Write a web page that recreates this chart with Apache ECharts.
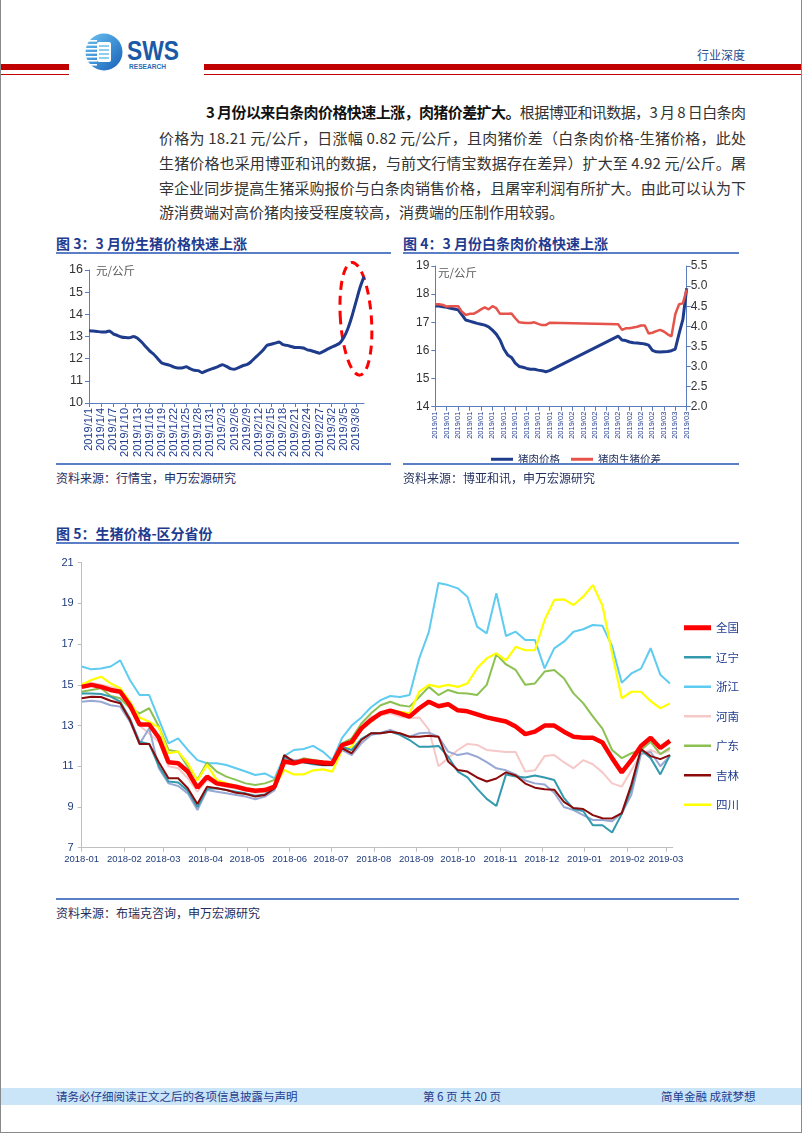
<!DOCTYPE html>
<html><head><meta charset="utf-8">
<script src="https://cdn.jsdelivr.net/npm/echarts@6.0.0/dist/echarts.min.js"></script>
<style>
html,body{margin:0;padding:0;background:#fff;}
#page{position:relative;width:802px;height:1133px;overflow:hidden;background:#fff;font-family:"Noto Sans CJK SC","Noto Sans",sans-serif;box-sizing:border-box;border-left:1px solid #8a8a8a;border-right:1px solid #8a8a8a;border-bottom:1px solid #8a8a8a;}
.abs{position:absolute;}
.red1{position:absolute;height:6px;top:64px;background:#c00000;}
.red2{position:absolute;height:1.5px;top:73.5px;background:#c00000;}
.pl{position:absolute;height:20px;line-height:20px;font-size:15px;color:#333;white-space:nowrap;}
.ttl{position:absolute;font-size:14px;font-weight:bold;color:#1f3b8f;white-space:nowrap;line-height:18px;}
.hl{position:absolute;height:1.5px;background:#5b7fc6;}
.src{position:absolute;font-size:12px;color:#1f2d5a;white-space:nowrap;line-height:16px;}
.ft{position:absolute;font-size:11.5px;color:#1f3b8f;white-space:nowrap;line-height:16px;top:1088px;}
.chart{position:absolute;}
</style></head>
<body>
<div id="page">
  <svg class="abs" style="left:82px;top:30px" width="120" height="46" viewBox="0 0 120 46">
    <defs>
      <linearGradient id="lg" x1="0" y1="0" x2="1" y2="1">
        <stop offset="0" stop-color="#6cc3f2"/><stop offset="1" stop-color="#1560b8"/>
      </linearGradient>
    </defs>
    <circle cx="21" cy="22" r="18.5" fill="url(#lg)"/>
    <rect x="2" y="10" width="12" height="1.6" fill="#fff"/>
    <rect x="1" y="14" width="13" height="1.6" fill="#fff"/>
    <rect x="1" y="18" width="13" height="1.6" fill="#fff"/>
    <rect x="1" y="22" width="13" height="1.6" fill="#fff"/>
    <rect x="1" y="26" width="13" height="1.6" fill="#fff"/>
    <rect x="1" y="30" width="13" height="1.6" fill="#fff"/>
    <rect x="2" y="34" width="12" height="1.6" fill="#fff"/>
    <rect x="14" y="12" width="14" height="20" rx="2" fill="#ffffff"/>
    <rect x="16" y="15" width="10" height="2" fill="#8fcdf3"/>
    <rect x="16" y="19" width="10" height="2" fill="#8fcdf3"/>
    <rect x="16" y="23" width="10" height="2" fill="#8fcdf3"/>
    <rect x="16" y="27" width="10" height="2" fill="#8fcdf3"/>
    <text x="44" y="30" font-family="Liberation Sans, Arial, sans-serif" font-weight="bold" font-size="28" fill="#1b5aa6" textLength="52" lengthAdjust="spacingAndGlyphs">SWS</text>
    <text x="46" y="39" font-family="Liberation Sans, Arial, sans-serif" font-weight="bold" font-size="7.5" fill="#2a6db5" textLength="37" lengthAdjust="spacingAndGlyphs">RESEARCH</text>
  </svg>
  <div class="red1" style="left:0;width:68px"></div>
  <div class="red2" style="left:0;width:68px"></div>
  <div class="red1" style="left:203px;width:600px"></div>
  <div class="red2" style="left:203px;width:600px"></div>
  <div class="abs" style="left:696px;top:47px;font-size:12px;color:#2b4c8c;line-height:16px;">行业深度</div>

  <div class="pl fit" data-w="540" style="left:205px;top:102px;"><b style="color:#111">3 月份以来白条肉价格快速上涨，肉猪价差扩大。</b>根据博亚和讯数据，3 月 8 日白条肉</div>
  <div class="pl fit" data-w="587" style="left:158px;top:128px;">价格为 18.21 元/公斤，日涨幅 0.82 元/公斤，且肉猪价差（白条肉价格-生猪价格，此处</div>
  <div class="pl fit" data-w="587" style="left:158px;top:153px;">生猪价格也采用博亚和讯的数据，与前文行情宝数据存在差异）扩大至 4.92 元/公斤。屠</div>
  <div class="pl fit" data-w="587" style="left:158px;top:178px;">宰企业同步提高生猪采购报价与白条肉销售价格，且屠宰利润有所扩大。由此可以认为下</div>
  <div class="pl" style="left:158px;top:202px;">游消费端对高价猪肉接受程度较高，消费端的压制作用较弱。</div>

  <div class="ttl" style="left:55px;top:234px;">图 3：3 月份生猪价格快速上涨</div>
  <div class="hl" style="left:55px;top:252px;width:335px;"></div>
  <div class="ttl" style="left:402px;top:234px;">图 4：3 月份白条肉价格快速上涨</div>
  <div class="hl" style="left:402px;top:252px;width:336px;"></div>
  <div class="chart" id="c3" style="left:50px;top:255px;width:345px;height:207px;"></div>
  <div class="chart" id="c4" style="left:395px;top:255px;width:350px;height:216px;"></div>
  <div class="hl" style="left:55px;top:463px;width:335px;"></div>
  <div class="hl" style="left:402px;top:463px;width:336px;"></div>
  <div class="src" style="left:55px;top:470px;">资料来源：行情宝，申万宏源研究</div>
  <div class="src" style="left:402px;top:470px;">资料来源：博亚和讯，申万宏源研究</div>

  <div class="ttl" style="left:55px;top:524px;">图 5：生猪价格-区分省份</div>
  <div class="hl" style="left:55px;top:542px;width:683px;"></div>
  <div class="chart" id="c5" style="left:50px;top:545px;width:700px;height:350px;"></div>
  <div class="hl" style="left:55px;top:898px;width:683px;"></div>
  <div class="src" style="left:55px;top:905px;">资料来源：布瑞克咨询，申万宏源研究</div>

  <div class="abs" style="left:0;top:1088px;width:802px;height:17px;background:#c9e5f7;"></div>
  <div class="ft" style="left:55px;">请务必仔细阅读正文之后的各项信息披露与声明</div>
  <div class="ft" style="left:422px;">第 6 页 共 20 页</div>
  <div class="ft" style="left:660px;">简单金融 成就梦想</div>
</div>
<script>
// ---------- Figure 3 data ----------
const f3Dates = ['2019/1/1','2019/1/2','2019/1/3','2019/1/4','2019/1/5','2019/1/6','2019/1/7','2019/1/8','2019/1/9','2019/1/10','2019/1/11','2019/1/12','2019/1/13','2019/1/14','2019/1/15','2019/1/16','2019/1/17','2019/1/18','2019/1/19','2019/1/20','2019/1/21','2019/1/22','2019/1/23','2019/1/24','2019/1/25','2019/1/26','2019/1/27','2019/1/28','2019/1/29','2019/1/30','2019/1/31','2019/2/1','2019/2/2','2019/2/3','2019/2/4','2019/2/5','2019/2/6','2019/2/7','2019/2/8','2019/2/9','2019/2/10','2019/2/11','2019/2/12','2019/2/13','2019/2/14','2019/2/15','2019/2/16','2019/2/17','2019/2/18','2019/2/19','2019/2/20','2019/2/21','2019/2/22','2019/2/23','2019/2/24','2019/2/25','2019/2/26','2019/2/27','2019/2/28','2019/3/1','2019/3/2','2019/3/3','2019/3/4','2019/3/5','2019/3/6','2019/3/7','2019/3/8','2019/3/9','2019/3/10'];
const f3Hog = [13.26,13.25,13.23,13.2,13.2,13.25,13.12,13.05,12.98,12.95,12.94,13.0,12.92,12.75,12.55,12.35,12.2,12.0,11.8,11.75,11.7,11.62,11.58,11.58,11.63,11.55,11.48,11.46,11.37,11.45,11.52,11.58,11.65,11.72,11.65,11.55,11.52,11.6,11.68,11.73,11.85,12.03,12.2,12.38,12.6,12.65,12.7,12.75,12.63,12.6,12.55,12.5,12.5,12.48,12.4,12.36,12.3,12.25,12.33,12.43,12.52,12.6,12.7,12.95,13.35,13.9,14.55,15.2,15.7];
const f3YTicks = [10, 16, 1];

// ---------- Figure 4 data ----------
const f4Dates = ['2019/01/01','2019/01/02','2019/01/03','2019/01/04','2019/01/05','2019/01/06','2019/01/07','2019/01/08','2019/01/09','2019/01/10','2019/01/11','2019/01/12','2019/01/13','2019/01/14','2019/01/15','2019/01/16','2019/01/17','2019/01/18','2019/01/19','2019/01/20','2019/01/21','2019/01/22','2019/01/23','2019/01/24','2019/01/25','2019/01/26','2019/01/27','2019/01/28','2019/01/29','2019/01/30','2019/01/31','2019/02/01','2019/02/02','2019/02/03','2019/02/04','2019/02/05','2019/02/06','2019/02/07','2019/02/08','2019/02/09','2019/02/10','2019/02/11','2019/02/12','2019/02/13','2019/02/14','2019/02/15','2019/02/16','2019/02/17','2019/02/18','2019/02/19','2019/02/20','2019/02/21','2019/02/22','2019/02/23','2019/02/24','2019/02/25','2019/02/26','2019/02/27','2019/02/28','2019/03/01','2019/03/02','2019/03/03','2019/03/04','2019/03/05','2019/03/06','2019/03/07','2019/03/08'];
const f4Pork = [17.58,17.58,17.55,17.53,17.5,17.47,17.44,17.26,17.08,17.04,17.0,16.96,16.93,16.9,16.84,16.72,16.58,16.37,16.05,15.84,15.75,15.55,15.43,15.4,15.36,15.33,15.33,15.3,15.28,15.24,15.28,
  null,null,null,null,null,null,null,null,null,null,null,null,null,null,null,null,null,
  16.51,16.37,16.35,16.3,16.27,16.26,16.25,16.23,16.19,16.0,15.95,15.94,15.95,15.96,15.99,16.05,16.6,17.1,18.21];
const f4Spread = [4.55,4.55,4.53,4.49,4.5,4.5,4.5,4.36,4.28,4.31,4.31,4.36,4.42,4.47,4.42,4.5,4.45,4.31,4.31,4.31,4.32,4.2,4.1,4.09,4.08,4.08,4.1,4.06,4.03,4.03,4.09,
  null,null,null,null,null,null,null,null,null,null,null,null,null,null,null,null,null,
  4.05,3.91,3.95,3.95,3.97,3.99,4.02,4.02,3.82,3.84,3.88,3.91,3.87,3.8,3.75,4.3,4.55,4.57,4.92];
const f4Names = ['猪肉价格','猪肉生猪价差'];

// ---------- Figure 5 data ----------
const f5Dates = ['2018-01-01','2018-01-08','2018-01-15','2018-01-22','2018-01-29','2018-02-05','2018-02-12','2018-02-19','2018-02-26','2018-03-05','2018-03-12','2018-03-19','2018-03-26','2018-04-02','2018-04-09','2018-04-16','2018-04-23','2018-04-30','2018-05-07','2018-05-14','2018-05-21','2018-05-28','2018-06-04','2018-06-11','2018-06-18','2018-06-25','2018-07-02','2018-07-09','2018-07-16','2018-07-23','2018-07-30','2018-08-06','2018-08-13','2018-08-20','2018-08-27','2018-09-03','2018-09-10','2018-09-17','2018-09-24','2018-10-01','2018-10-08','2018-10-15','2018-10-22','2018-10-29','2018-11-05','2018-11-12','2018-11-19','2018-11-26','2018-12-03','2018-12-10','2018-12-17','2018-12-24','2018-12-31','2019-01-07','2019-01-14','2019-01-21','2019-01-28','2019-02-04','2019-02-11','2019-02-18','2019-02-25','2019-03-04'];
const f5MonthTicks = ['2018-01-01','2018-02-01','2018-03-01','2018-04-01','2018-05-01','2018-06-01','2018-07-01','2018-08-01','2018-09-01','2018-10-01','2018-11-01','2018-12-01','2019-01-01','2019-02-01','2019-03-01'];
const f5National = [14.9,15.0,14.9,14.75,14.66,14.0,13.05,13.05,12.4,11.2,11.15,10.74,9.95,10.49,10.16,10.08,
  10.0,9.87,9.8,9.83,10.0,11.23,11.15,11.28,11.23,11.18,11.15,12.04,12.2,12.86,13.27,
  13.6,13.73,13.6,13.44,13.85,14.17,13.95,14.05,13.75,13.7,13.55,13.4,13.3,13.2,12.95,12.58,
  12.7,13.0,13.0,12.7,12.45,12.4,12.4,12.17,11.4,10.7,11.3,12.0,12.4,11.9,12.25];
const f5Liaoning = [14.58,14.58,14.55,14.42,14.17,13.35,12.2,12.1,11.0,10.25,10.2,9.8,9.0,9.9,9.92,9.83,
  9.75,9.67,9.55,9.62,9.92,11.47,11.23,11.2,11.1,11.05,11.05,11.95,11.8,12.35,12.62,
  12.62,12.7,12.54,12.29,11.96,11.96,12.0,11.47,10.74,10.45,9.9,9.4,9.05,10.6,10.5,10.45,
  10.55,10.45,10.33,9.45,8.9,8.8,8.1,8.1,7.75,8.65,9.9,11.8,11.4,10.6,11.55];
const f5Zhejiang = [15.9,15.76,15.8,15.9,16.2,15.24,14.5,14.5,13.3,12.13,12.37,11.8,11.3,11.15,11.15,11.06,
  10.9,10.74,10.57,10.65,10.41,11.5,11.8,11.85,12.0,11.72,11.3,12.4,13.0,13.4,13.9,
  14.25,14.45,14.4,14.5,16.3,17.6,20.0,19.9,19.74,19.33,17.86,17.53,19.5,17.4,17.61,17.2,
  17.2,15.81,16.79,17.12,17.61,17.73,17.94,17.9,16.9,15.1,15.56,15.8,16.8,15.5,15.07];
const f5Henan = [15.05,15.1,15.0,14.9,14.78,14.1,13.0,12.6,12.2,11.0,10.9,10.41,9.75,10.33,10.1,10.0,
  9.9,9.85,9.7,9.75,9.95,11.2,11.2,11.23,11.2,11.15,11.1,12.0,12.15,12.95,13.44,
  13.5,13.6,13.44,13.36,13.4,12.8,11.0,11.4,11.8,12.1,12.05,11.8,11.75,11.7,11.7,10.74,
  10.8,11.5,11.55,11.2,10.9,11.3,11.1,10.7,10.16,10.0,10.8,11.6,11.8,11.6,11.8];
const f5Guangdong = [14.66,14.75,14.83,14.45,14.34,13.85,13.6,13.85,12.95,11.8,11.72,10.98,10.35,11.18,10.74,10.49,
  10.33,10.16,10.08,10.16,10.33,11.31,11.23,11.39,11.31,11.23,11.15,12.13,12.37,13.1,13.6,
  14.0,14.17,14.0,13.93,14.4,14.9,14.5,14.75,14.6,14.58,14.5,15.0,16.5,16.0,15.73,15.0,
  15.07,15.65,15.73,15.32,14.58,14.1,13.45,12.85,11.8,11.4,11.64,11.8,12.2,11.6,11.9];
const f5Jilin = [14.34,14.42,14.4,14.22,14.1,13.27,12.1,12.1,11.2,10.41,10.41,9.92,9.15,10.0,9.92,9.83,
  9.7,9.64,9.51,9.59,9.92,11.55,11.23,11.2,11.15,11.06,11.06,11.88,11.64,12.29,12.62,
  12.62,12.7,12.62,12.45,12.45,12.5,12.45,11.23,10.82,10.74,10.45,10.25,10.4,10.7,10.55,10.15,
  9.95,9.87,9.85,9.25,8.95,8.9,8.6,8.45,8.44,8.7,10.1,11.85,11.5,11.35,11.55];
const f5Sichuan = [15.0,15.24,15.4,15.07,14.83,14.17,13.4,13.19,12.9,11.64,11.72,11.15,10.3,11.07,10.33,10.16,
  10.03,9.92,9.83,9.85,10.0,10.82,10.6,10.6,10.8,10.85,10.74,11.8,11.96,12.9,13.19,
  13.6,13.76,13.68,13.6,14.66,15.0,14.9,15.0,14.9,15.07,15.81,16.3,16.55,16.2,16.87,16.7,
  16.7,18.18,19.17,19.2,18.92,19.33,19.9,18.9,16.55,14.34,14.66,14.66,14.2,13.85,14.09];
const f5Other = [14.17,14.22,14.17,14.0,13.93,13.19,12.1,12.87,10.9,10.16,10.03,9.67,8.85,9.83,9.75,9.67,
  9.59,9.51,9.38,9.51,9.83,11.39,11.31,11.3,11.2,11.15,11.15,11.8,11.55,12.13,12.54,
  12.65,12.78,12.6,12.45,12.62,12.65,12.45,11.72,11.55,11.64,11.47,11.2,10.9,10.8,10.6,10.3,
  10.16,10.1,9.7,9.0,8.85,8.6,8.36,8.36,8.3,8.69,9.6,11.6,11.7,11.0,11.5];
const f5YTicks = [7, 21, 2];

// ---------- justify paragraph lines ----------
document.querySelectorAll('.fit').forEach(el => {
  const target = +el.dataset.w;
  const w = el.getBoundingClientRect().width;
  const n = el.textContent.length;
  el.style.letterSpacing = ((target - w) / (n - 1)) + 'px';
});

const NUMF = '"Liberation Sans", Arial, "Noto Sans CJK SC", sans-serif';
const CJKF = '"Noto Sans CJK SC", "Liberation Sans", sans-serif';
const axisBlue = '#5b7dbd';

// ---------- Figure 3 ----------
const c3 = echarts.init(document.getElementById('c3'));
c3.setOption({
  animation: false,
  grid: {left: 38, top: 15, width: 275, height: 133},
  xAxis: {type: 'category', data: f3Dates, boundaryGap: false,
    axisLine: {lineStyle: {color: axisBlue}},
    axisTick: {interval: 2, length: 4, lineStyle: {color: axisBlue}},
    axisLabel: {interval: 2, rotate: 90, fontSize: 11, color: '#1f3b8f', margin: 5, fontFamily: NUMF}},
  yAxis: {type: 'value', min: f3YTicks[0], max: f3YTicks[1], interval: f3YTicks[2],
    axisLine: {show: true, lineStyle: {color: axisBlue}},
    axisTick: {show: true, length: 4, lineStyle: {color: axisBlue}},
    splitLine: {show: false},
    axisLabel: {fontSize: 12.5, color: '#333', margin: 6, fontFamily: NUMF}},
  series: [{type: 'line', data: f3Hog, symbol: 'none', smooth: 0.2,
    lineStyle: {color: '#1f3c8c', width: 3}}]
});
const ec = c3.convertToPixel({gridIndex: 0}, [66.1, 13.8]);
c3.setOption({graphic: [
  {type: 'text', left: 45, top: 10, style: {text: '元/公斤', fill: '#595959', font: '11.5px ' + CJKF}},
  {type: 'ellipse', x: ec[0], y: ec[1], rotation: 0.07,
    shape: {cx: 0, cy: 0, rx: 15.5, ry: 56.5},
    style: {fill: 'none', stroke: '#ff0000', lineWidth: 3, lineDash: [9, 6]}}
]});

// ---------- Figure 4 ----------
const c4 = echarts.init(document.getElementById('c4'));
c4.setOption({
  animation: false,
  grid: {left: 39.3, top: 11, width: 251.4, height: 140.7},
  legend: {data: f4Names, icon: 'rect', left: 90, top: 194, itemWidth: 22, itemHeight: 3, itemGap: 11,
    textStyle: {fontSize: 10.5, color: '#1f2d5a', fontFamily: CJKF}},
  xAxis: {type: 'category', data: f4Dates, boundaryGap: false,
    axisLine: {lineStyle: {color: axisBlue}},
    axisTick: {interval: 2, length: 4, lineStyle: {color: axisBlue}},
    axisLabel: {interval: 2, rotate: 90, fontSize: 7.5, color: '#1f3b8f', margin: 5, fontFamily: NUMF,
      formatter: v => v.slice(0, 7)}},
  yAxis: [
    {type: 'value', min: 14, max: 19, interval: 1, position: 'left',
      axisLine: {show: true, lineStyle: {color: axisBlue}},
      axisTick: {show: true, length: 4, lineStyle: {color: axisBlue}},
      splitLine: {show: false},
      axisLabel: {fontSize: 12, color: '#333', margin: 6, fontFamily: NUMF}},
    {type: 'value', min: 2, max: 5.5, interval: 0.5, position: 'right',
      axisLine: {show: true, lineStyle: {color: axisBlue}},
      axisTick: {show: true, length: 4, lineStyle: {color: axisBlue}},
      splitLine: {show: false},
      axisLabel: {fontSize: 12, color: '#333', margin: 4, fontFamily: NUMF, formatter: v => v.toFixed(1)}}
  ],
  series: [
    {name: f4Names[0], type: 'line', data: f4Pork, yAxisIndex: 0, symbol: 'none', connectNulls: true,
      color: '#1f3c8c', lineStyle: {color: '#1f3c8c', width: 3}},
    {name: f4Names[1], type: 'line', data: f4Spread, yAxisIndex: 1, symbol: 'none', connectNulls: true,
      color: '#e5534b', lineStyle: {color: '#e5534b', width: 2.5}}
  ],
  graphic: [{type: 'text', left: 42, top: 12, style: {text: '元/公斤', fill: '#595959', font: '11.5px ' + CJKF}}]
});

// ---------- Figure 5 ----------
const dayOf = s => { const p = s.split('-').map(Number); return (Date.UTC(p[0], p[1] - 1, p[2]) - Date.UTC(2018, 0, 1)) / 86400000; };
const fmtDay = v => { const d = new Date(Date.UTC(2018, 0, 1) + Math.round(v) * 86400000); return d.getUTCFullYear() + '-' + String(d.getUTCMonth() + 1).padStart(2, '0'); };
const f5X = f5Dates.map(dayOf);
const monthVals = f5MonthTicks.map(dayOf);
const pts = arr => arr.map((v, i) => [f5X[i], v]);
const s5 = [
  {name: '浙江', data: f5Zhejiang, color: '#5ecbf0', w: 2},
  {name: '河南', data: f5Henan, color: '#f6c8c8', w: 2},
  {name: '广东', data: f5Guangdong, color: '#8cc152', w: 2},
  {name: '四川', data: f5Sichuan, color: '#ffff00', w: 2.2},
  {name: '其他', data: f5Other, color: '#97a9d3', w: 2},
  {name: '辽宁', data: f5Liaoning, color: '#3399ad', w: 2},
  {name: '吉林', data: f5Jilin, color: '#8b0a0a', w: 2},
  {name: '全国', data: f5National, color: '#ff0000', w: 4.5}
];
const legTxt = {fontSize: 11.5, color: '#1f3b8f', fontFamily: CJKF};
const c5 = echarts.init(document.getElementById('c5'));
c5.setOption({
  animation: false,
  grid: {left: 30.7, top: 17.7, width: 591, height: 285},
  legend: [
    {data: ['全国'], orient: 'vertical', icon: 'rect', left: 628, top: 72,
      itemWidth: 27, itemHeight: 5, itemGap: 17.8, textStyle: legTxt},
    {data: ['辽宁', '浙江', '河南', '广东', '吉林', '四川'], orient: 'vertical', icon: 'rect', left: 628, top: 101.5,
      itemWidth: 27, itemHeight: 2.5, itemGap: 18, textStyle: legTxt}
  ],
  xAxis: {type: 'value', min: 0, max: 429,
    axisLine: {show: true, lineStyle: {color: '#bfbfbf'}},
    axisTick: {show: true, length: 4, customValues: monthVals, lineStyle: {color: '#bfbfbf'}},
    splitLine: {show: false},
    axisLabel: {customValues: monthVals, formatter: fmtDay, fontSize: 9.5, color: '#1f3b7a', margin: 7,
      fontFamily: NUMF}},
  yAxis: {type: 'value', min: f5YTicks[0], max: f5YTicks[1], interval: f5YTicks[2],
    axisLine: {show: true, lineStyle: {color: '#bfbfbf'}},
    axisTick: {show: true, length: 4, lineStyle: {color: '#bfbfbf'}},
    splitLine: {show: false},
    axisLabel: {fontSize: 11, color: '#1f3b7a', margin: 8, fontFamily: NUMF}},
  series: s5.map(s => ({name: s.name, type: 'line', data: pts(s.data), symbol: 'none',
    color: s.color, lineStyle: {color: s.color, width: s.w}}))
});
</script>
</body></html>
